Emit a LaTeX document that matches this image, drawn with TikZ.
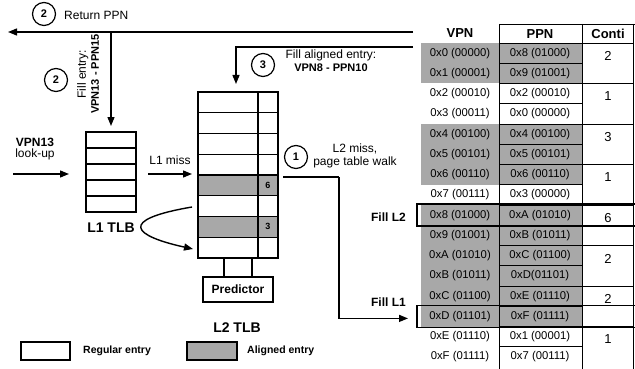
\documentclass[tikz,border=0pt]{standalone}
\usepackage{fontspec}
\setmainfont{Liberation Sans}
\usetikzlibrary{arrows.meta}
\definecolor{aligngray}{RGB}{168,168,168}

\tikzset{
  box/.style={draw=black, line width=1.6pt, inner sep=0pt, outer sep=0pt},
  flow/.style={line width=1.4pt, -{Triangle[length=9pt,width=7pt]}},
  stepnum/.style={draw, circle, line width=1.2pt, minimum size=23pt, inner sep=0pt, font=\fontsize{11}{11}\selectfont\bfseries},
  lbl/.style={font=\fontsize{12}{13}\selectfont, inner sep=0pt, align=center},
  blbl/.style={font=\fontsize{12}{13}\selectfont\bfseries, inner sep=0pt, align=center},
  cell/.style={font=\fontsize{11.3}{12}\selectfont, inner sep=0pt},
  hdr/.style={font=\fontsize{13}{13}\selectfont\bfseries, inner sep=0pt},
  rule/.style={line width=0.8pt, black},
  legtext/.style={font=\fontsize{10.5}{12}\selectfont\bfseries, inner sep=0pt, anchor=west},
}

\begin{document}
\begin{tikzpicture}[x=1pt,y=-1pt]
\useasboundingbox (0,0) rectangle (635,369);

% page table
\foreach \a/\b in {0/1,4/6,8/13}
  \fill[aligngray] (421,{43+20.25*\a}) rectangle (582,{43+20.25*(\b+1)});
\foreach \v/\p [count=\i from 0] in {
  0x0 (00000)/0x8 (01000), 0x1 (00001)/0x9 (01001),
  0x2 (00010)/0x2 (00010), 0x3 (00011)/0x0 (00000),
  0x4 (00100)/0x4 (00100), 0x5 (00101)/0x5 (00101),
  0x6 (00110)/0x6 (00110), 0x7 (00111)/0x3 (00000),
  0x8 (01000)/0xA (01010), 0x9 (01001)/0xB (01011),
  0xA (01010)/0xC (01100), 0xB (01011)/0xD(01101),
  0xC (01100)/0xE (01110), 0xD (01101)/0xF (01111),
  0xE (01110)/0x1 (00001), 0xF (01111)/0x7 (00111)}{
  \node[cell] (vpn\i) at (460,{53.1+20.25*\i}) {\v};
  \node[cell] (ppn\i) at (540,{53.1+20.25*\i}) {\p};
}
\foreach \i in {0,...,15}
  \draw[rule] (499,{43+20.25*\i}) -- (582,{43+20.25*\i});
\foreach \i in {0,2,...,14}
  \draw[rule] (582,{43+20.25*\i}) -- (634,{43+20.25*\i});
\draw[rule] (499,24) -- (635,24);
\draw[rule] (499,24) -- (499,369);
\draw[rule] (582,24) -- (582,369);
\draw[rule] (633.5,24) -- (633.5,369);
\node[hdr] (hvpn) at (460,33) {VPN};
\node[hdr] (hppn) at (540,34) {PPN};
\node[hdr] (hconti) at (608,34) {Conti};
\foreach \i/\c in {0/2,2/1,4/3,6/1,8/6,10/2,12/2,14/1}
  \node[font=\fontsize{13}{13}\selectfont] (conti\i) at (608,{56+20.25*\i}) {\c};

% filled entries
\node[draw, line width=1.8pt, minimum width=224pt, minimum height=22pt, anchor=west] (filltwo) at (416,215.2) {};
\node[draw, line width=1.8pt, minimum width=224pt, minimum height=22pt, anchor=west] (fillone) at (416,316.4) {};
\node[blbl, anchor=east] (ftwo) at (406,217) {Fill L2};
\node[blbl, anchor=east] (fone) at (406,302) {Fill L1};

% L1 TLB
\node[box, minimum width=50pt, minimum height=80pt] (l1) at (111,172) {};
\foreach \k in {1,...,4}
  \draw[line width=1.2pt] ([yshift=-16*\k pt]l1.north west) -- ([yshift=-16*\k pt]l1.north east);
\node[font=\fontsize{14}{14}\selectfont\bfseries] (l1lbl) at (111,228) {L1 TLB};

% L2 TLB
\foreach \r/\n in {4/6,6/3}{
  \fill[aligngray] (198,{92+20.75*\r}) rectangle (278,{92+20.75*(\r+1)});
  \node[font=\fontsize{9}{9}\selectfont\bfseries] (cnt\n) at (268,{92+20.75*(\r+0.5)}) {\n};
}
\node[box, minimum width=80pt, minimum height=166pt] (l2) at (238,175) {};
\foreach \r in {1,...,7}
  \draw[line width=1.2pt] (198,{92+20.75*\r}) -- (278,{92+20.75*\r});
\draw[line width=1.2pt] (258,92) -- (258,258);
\node[box, minimum width=70pt, minimum height=25pt, font=\fontsize{12}{12}\selectfont\bfseries] (pred) at (238,289.5) {Predictor};
\draw[line width=1.2pt] ([xshift=-14pt]l2.south) -- ([xshift=-14pt]pred.north);
\draw[line width=1.2pt] ([xshift=14pt]l2.south) -- ([xshift=14pt]pred.north);
\node[font=\fontsize{14}{14}\selectfont\bfseries] (l2lbl) at (237,328) {L2 TLB};

% lookup and miss
\node[blbl] (vpnin) at (35,142) {VPN13};
\node[lbl] (lookup) at (35,154) {look-up};
\coordinate (vin) at (13,174);
\draw[flow] (vin) -- ([xshift=-17pt]l1.west |- vin);
\node[lbl] (miss1) at (170,160) {L1 miss};
\coordinate (m1) at (148,174);
\draw[flow] (m1) -- ([xshift=-6pt]l2.west |- m1);
\draw[flow] (192,207) .. controls (116,220) and (134,236) .. (193,249);

% step 1
\node[stepnum] (c1) at (296,157) {1};
\node[lbl] (walk) at (355,156) {L2 miss,\\page table walk};
\coordinate (walkstart) at (283,177);
\draw[line width=1.4pt] (walkstart) -- (339,177);
\draw[flow] (339,177) |- ([xshift=-8pt,yshift=-2pt]fillone.west);

% step 2
\node[stepnum] (c2a) at (44,14) {2};
\node[lbl, anchor=west] (ret) at (64,15) {Return PPN};
\coordinate (retstart) at (413,32);
\coordinate (retend) at (8,32);
\draw[flow] (retstart) -- (retend);
\draw[flow] (l1.north |- retstart) -- ([yshift=6pt]l1.north);
\node[stepnum] (c2b) at (56,80) {2};
\node[lbl, rotate=90] (fillent) at (88,74) {Fill entry:\\\textbf{\fontsize{11}{12}\selectfont VPN13 - PPN15}};

% step 3
\coordinate (alstart) at (413,47);
\draw[flow] (alstart) -| ([xshift=-2pt,yshift=8pt]l2.north);
\node[stepnum] (c3) at (263,65) {3};
\node[lbl] (alfill) at (331,61) {Fill aligned entry:\\\textbf{\fontsize{11}{12}\selectfont VPN8 - PPN10}};

% legend
\node[box, minimum width=49pt, minimum height=18pt] (legreg) at (45.5,351) {};
\node[legtext] (legregtxt) at (83,351) {Regular entry};
\node[box, fill=aligngray, minimum width=50pt, minimum height=18pt] (legal) at (212,351) {};
\node[legtext] (legaltxt) at (247,351) {Aligned entry};
\end{tikzpicture}
\end{document}
